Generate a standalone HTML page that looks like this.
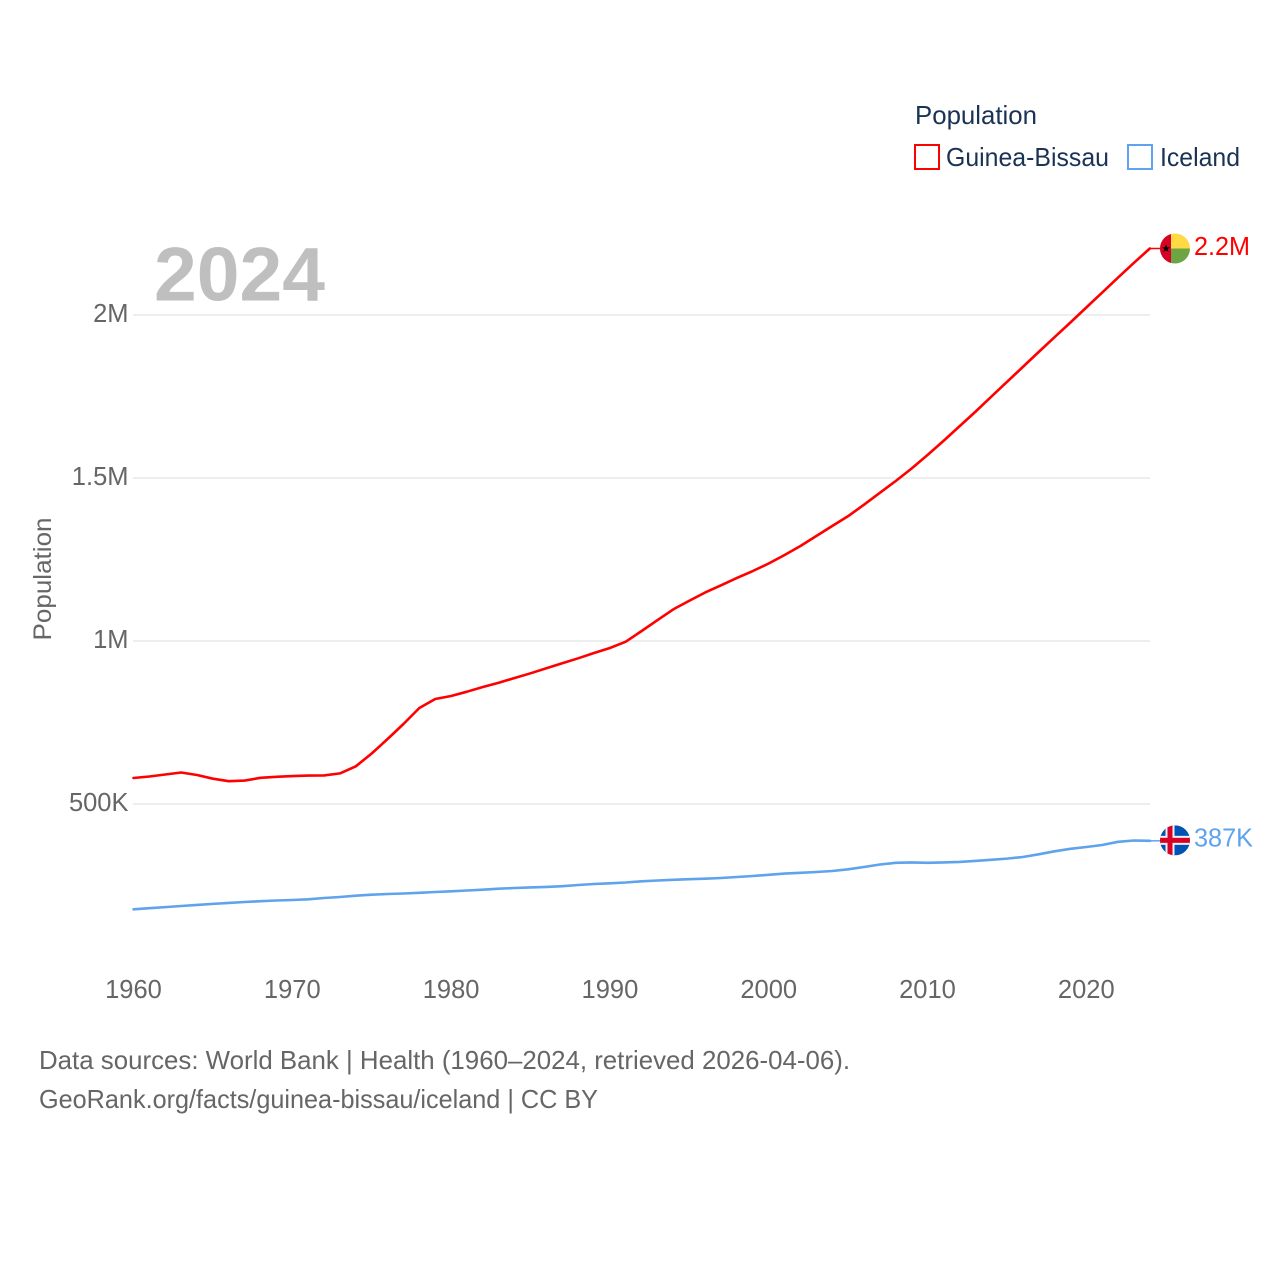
<!DOCTYPE html>
<html lang="en">
<head>
<meta charset="utf-8">
<title>Population: Guinea-Bissau and Iceland</title>
<style>
html,body{margin:0;padding:0;background:#fff;}
body{width:1280px;height:1280px;overflow:hidden;}
svg{display:block;font-family:"Liberation Sans",sans-serif;}
</style>
</head>
<body>
<svg id="chart" width="1280" height="1280" viewBox="0 0 1280 1280" xmlns="http://www.w3.org/2000/svg">
  <defs>
    <clipPath id="flag-clip"><circle cx="0" cy="0" r="15"/></clipPath>
  </defs>
  <g id="grid"></g>
  <text x="154" y="300.5" font-size="76" font-weight="700" fill="#bfbfbf" textLength="171" lengthAdjust="spacingAndGlyphs">2024</text>
  <g id="y-ticks"></g>
  <g id="x-ticks"></g>
  <text transform="translate(51,579) rotate(-90)" text-anchor="middle" font-size="25" fill="#666666" textLength="123" lengthAdjust="spacingAndGlyphs">Population</text>
  <g id="series"></g>

  <g id="flag-gb">
    <g clip-path="url(#flag-clip)">
      <rect x="-15" y="-15" width="30" height="15" fill="#ffda44"/>
      <rect x="-15" y="0" width="30" height="15" fill="#6da544"/>
      <rect x="-15" y="-15" width="11" height="30" fill="#d80027"/>
      <polygon points="-9,-4 -7.9,-1.2 -5,-1.2 -7.3,0.6 -6.5,3.4 -9,1.7 -11.5,3.4 -10.7,0.6 -13,-1.2 -10.1,-1.2" fill="#000"/>
    </g>
  </g>
  <g id="flag-is">
    <g clip-path="url(#flag-clip)">
      <rect x="-15" y="-15" width="30" height="30" fill="#0052b4"/>
      <rect x="-15" y="-4.5" width="30" height="9" fill="#f0f0f0"/>
      <rect x="-9.5" y="-15" width="9" height="30" fill="#f0f0f0"/>
      <rect x="-15" y="-2.5" width="30" height="5" fill="#d80027"/>
      <rect x="-7.5" y="-15" width="5" height="30" fill="#d80027"/>
    </g>
  </g>
  <text id="label-gb" x="1194" font-size="25.5" fill="#ff0000" textLength="56" lengthAdjust="spacingAndGlyphs"></text>
  <text id="label-is" x="1194" font-size="25.5" fill="#5ea3ec" textLength="59" lengthAdjust="spacingAndGlyphs"></text>

  <g>
    <text x="915" y="124" font-size="26" fill="#1a3355" textLength="122" lengthAdjust="spacingAndGlyphs">Population</text>
    <g>
      <rect x="915" y="145" width="24" height="24" fill="none" stroke="#ff0000" stroke-width="2"/>
      <text x="946" y="166" font-size="26" fill="#1a3355" textLength="163" lengthAdjust="spacingAndGlyphs">Guinea-Bissau</text>
    </g>
    <g>
      <rect x="1128" y="145" width="24" height="24" fill="none" stroke="#5ea3ec" stroke-width="2"/>
      <text x="1160" y="166" font-size="26" fill="#1a3355" textLength="80" lengthAdjust="spacingAndGlyphs">Iceland</text>
    </g>
  </g>

  <g>
    <text x="39" y="1069" font-size="26" fill="#666666" textLength="811" lengthAdjust="spacingAndGlyphs">Data sources: World Bank | Health (1960–2024, retrieved 2026-04-06).</text>
    <text x="39" y="1108" font-size="26" fill="#666666" textLength="559" lengthAdjust="spacingAndGlyphs">GeoRank.org/facts/guinea-bissau/iceland | CC BY</text>
  </g>
</svg>
<script>
const firstYear = 1960;
const guineaBissau = [579.8,584.4,590.5,596.6,589.0,577.6,569.9,571.8,580.4,583.4,585.6,587.1,587.7,593.9,615.6,654.9,699.4,745.4,794.5,822.1,831.3,844.5,858.9,872.1,886.5,900.9,916.3,931.6,946.9,963.2,978.5,997.9,1030.7,1064.4,1097.3,1123.6,1148.8,1170.9,1193.3,1214.7,1237.7,1263.8,1291.4,1322.1,1352.8,1383,1418,1454.5,1490.8,1529.1,1570.6,1613.5,1658,1702.5,1748.5,1794.5,1840.5,1886.5,1932,1977,2023,2069,2115,2160,2204];
const iceland = [177,180.4,183.7,187.1,190.5,193.6,196.6,199.4,201.8,204,205.5,207.7,211.7,214.7,218.7,221.8,223.9,225.5,227.6,230.1,232.2,234.7,237.1,240.2,242.3,244.2,245.7,247.9,251.5,254.6,256.7,259.2,262.9,265.3,267.5,269.3,270.9,273,276.1,279.1,282.8,286.5,289,291.4,294.5,299.7,306.8,314.4,319.6,320.6,319.6,320.9,322.4,325.2,328.8,332.5,337.4,345.7,354.9,362.6,368.1,374.2,384,388,387];
const yTickValues = [500,1000,1500,2000];
const yTickLabels = ["500K","1M","1.5M","2M"];
const xTickValues = [1960,1970,1980,1990,2000,2010,2020];

const NS = "http://www.w3.org/2000/svg";
function xScale(year){ return 133.5 + (year - 1960) * 15.88; }
function yScale(k){ return 967 - k * 0.326; }
function fmt(k){ return k >= 1000 ? (k/1000).toFixed(1).replace(/\.0$/,"") + "M" : Math.round(k) + "K"; }
function make(tag, attrs, parent){
  const n = document.createElementNS(NS, tag);
  for (const a in attrs) n.setAttribute(a, attrs[a]);
  parent.appendChild(n);
  return n;
}

const grid = document.getElementById("grid");
const yT = document.getElementById("y-ticks");
yTickValues.forEach(function(v, i){
  const line = make("line", {x1:133, x2:1150, y1:yScale(v), y2:yScale(v), stroke:"#eeeeee", "stroke-width":2}, grid);
  
  
  const t = make("text", {x:128.5, y:yScale(v)+7, "text-anchor":"end", "font-size":25.5, fill:"#666666"}, yT);
  t.textContent = yTickLabels[i];
  
  
});

const xT = document.getElementById("x-ticks");
xTickValues.forEach(function(y){
  const t = make("text", {x:xScale(y), y:998, "text-anchor":"middle", "font-size":25.5, fill:"#666666"}, xT);
  t.textContent = String(y);
  
  
});

const seriesGroup = document.getElementById("series");
function drawSeries(values, color, flagId, labelId, nameLine, nameConnector, flagShift, labelShift){
  const pts = values.map(function(v, i){ return xScale(firstYear + i).toFixed(2) + "," + yScale(v).toFixed(2); });
  const path = make("polyline", {points:pts.join(" "), fill:"none", stroke:color, "stroke-width":2.6, "stroke-linejoin":"round", "stroke-linecap":"round"}, seriesGroup);
  
  
  const lastY = yScale(values[values.length-1]);
  const lastX = xScale(firstYear + values.length - 1);
  const conn = make("line", {x1:lastX, x2:1161, y1:lastY, y2:lastY, stroke:color, "stroke-width":1.5}, seriesGroup);
  
  
  document.getElementById(flagId).setAttribute("transform", "translate(1175," + (lastY + flagShift).toFixed(2) + ")");
  const lab = document.getElementById(labelId);
  lab.textContent = fmt(values[values.length-1]);
  lab.setAttribute("y", (lastY + labelShift).toFixed(2));
}
drawSeries(guineaBissau, "#ff0000", "flag-gb", "label-gb", "guinea-bissau-line", "guinea-bissau-connector", 0, 6.5);
drawSeries(iceland, "#5ea3ec", "flag-is", "label-is", "iceland-line", "iceland-connector", -0.5, 5.5);
</script>
</body>
</html>
